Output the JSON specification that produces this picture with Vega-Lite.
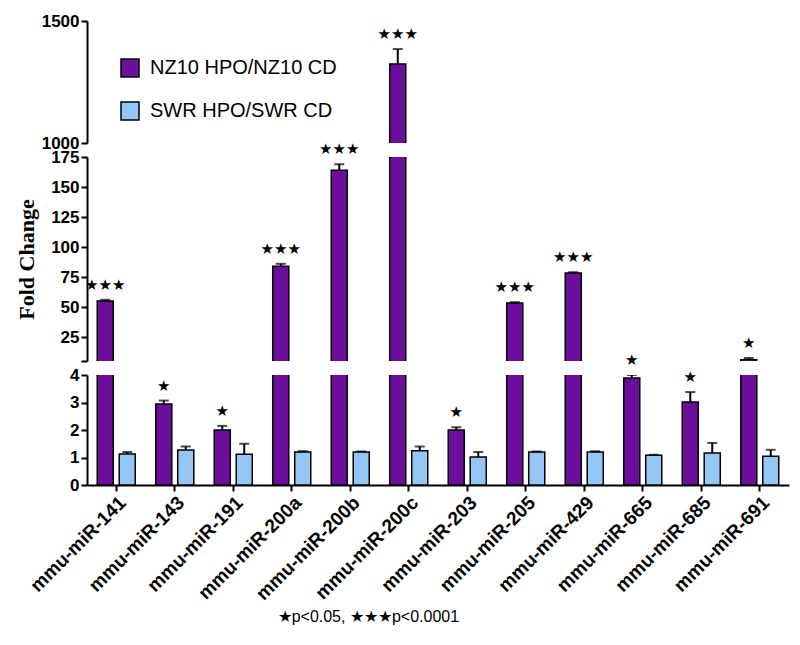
{
  "$schema": "https://vega.github.io/schema/vega-lite/v6.json",
  "padding": {"left": 15, "top": 12, "right": 10, "bottom": 8},
  "background": "white",
  "datasets": {
    "d": [
      {"mir": "mmu-miR-141", "group": "NZ10 HPO/NZ10 CD", "value": 55, "err": 56, "sig": "★★★"},
      {"mir": "mmu-miR-141", "group": "SWR HPO/SWR CD", "value": 1.13, "err": 1.2, "sig": ""},
      {"mir": "mmu-miR-143", "group": "NZ10 HPO/NZ10 CD", "value": 2.95, "err": 3.07, "sig": "★"},
      {"mir": "mmu-miR-143", "group": "SWR HPO/SWR CD", "value": 1.27, "err": 1.4, "sig": ""},
      {"mir": "mmu-miR-191", "group": "NZ10 HPO/NZ10 CD", "value": 2.0, "err": 2.15, "sig": "★"},
      {"mir": "mmu-miR-191", "group": "SWR HPO/SWR CD", "value": 1.12, "err": 1.5, "sig": ""},
      {"mir": "mmu-miR-200a", "group": "NZ10 HPO/NZ10 CD", "value": 84, "err": 86, "sig": "★★★"},
      {"mir": "mmu-miR-200a", "group": "SWR HPO/SWR CD", "value": 1.2, "err": 1.23, "sig": ""},
      {"mir": "mmu-miR-200b", "group": "NZ10 HPO/NZ10 CD", "value": 164, "err": 169, "sig": "★★★"},
      {"mir": "mmu-miR-200b", "group": "SWR HPO/SWR CD", "value": 1.2, "err": 1.22, "sig": ""},
      {"mir": "mmu-miR-200c", "group": "NZ10 HPO/NZ10 CD", "value": 1324, "err": 1385, "sig": "★★★"},
      {"mir": "mmu-miR-200c", "group": "SWR HPO/SWR CD", "value": 1.25, "err": 1.4, "sig": ""},
      {"mir": "mmu-miR-203", "group": "NZ10 HPO/NZ10 CD", "value": 2.0, "err": 2.1, "sig": "★"},
      {"mir": "mmu-miR-203", "group": "SWR HPO/SWR CD", "value": 1.02, "err": 1.2, "sig": ""},
      {"mir": "mmu-miR-205", "group": "NZ10 HPO/NZ10 CD", "value": 53.3, "err": 54, "sig": "★★★"},
      {"mir": "mmu-miR-205", "group": "SWR HPO/SWR CD", "value": 1.2, "err": 1.22, "sig": ""},
      {"mir": "mmu-miR-429", "group": "NZ10 HPO/NZ10 CD", "value": 78.3, "err": 79, "sig": "★★★"},
      {"mir": "mmu-miR-429", "group": "SWR HPO/SWR CD", "value": 1.2, "err": 1.23, "sig": ""},
      {"mir": "mmu-miR-665", "group": "NZ10 HPO/NZ10 CD", "value": 3.89, "err": 4.0, "sig": "★"},
      {"mir": "mmu-miR-665", "group": "SWR HPO/SWR CD", "value": 1.08, "err": 1.1, "sig": ""},
      {"mir": "mmu-miR-685", "group": "NZ10 HPO/NZ10 CD", "value": 3.02, "err": 3.38, "sig": "★"},
      {"mir": "mmu-miR-685", "group": "SWR HPO/SWR CD", "value": 1.16, "err": 1.53, "sig": ""},
      {"mir": "mmu-miR-691", "group": "NZ10 HPO/NZ10 CD", "value": 6, "err": 7.5, "sig": "★"},
      {"mir": "mmu-miR-691", "group": "SWR HPO/SWR CD", "value": 1.05, "err": 1.28, "sig": ""}
    ]
  },
  "config": {
    "view": {"stroke": null},
    "axis": {
      "domainColor": "black", "domainWidth": 2, "tickColor": "black", "tickWidth": 2, "tickSize": 6,
      "labelFont": "Liberation Sans", "labelFontWeight": "bold", "labelFontSize": 17, "labelColor": "black",
      "grid": false, "titleColor": "black"
    },
    "axisY": {"labelOverlap": false, "tickCount": 30}
  },
  "title": {
    "text": "★p<0.05, ★★★p<0.0001", "orient": "bottom", "anchor": "start", "dx": 262,
    "font": "Liberation Sans", "fontSize": 16, "fontWeight": "normal", "color": "black", "offset": 6
  },
  "spacing": 14,
  "bounds": "flush",
  "resolve": {"legend": {"color": "independent"}},
  "vconcat": [
    {
      "width": 702, "height": 122,
      "data": {"name": "d"},
      "encoding": {
        "x": {"field": "mir", "type": "nominal", "sort": null, "scale": {"paddingInner": 0.35, "paddingOuter": 0.175}, "axis": null},
        "xOffset": {"field": "group", "type": "nominal", "sort": ["NZ10 HPO/NZ10 CD", "SWR HPO/SWR CD"], "scale": {"paddingInner": 0.27}}
      },
      "layer": [
        {
          "mark": {"type": "bar", "clip": true, "stroke": "black", "strokeWidth": 1.5},
          "encoding": {
            "y": {"field": "value", "type": "quantitative", "scale": {"domain": [1000, 1500], "zero": false, "nice": false},
                  "axis": {"values": [1000, 1500], "tickCount": 30, "title": null, "format": "d"}},
            "color": {"field": "group", "type": "nominal", "sort": ["NZ10 HPO/NZ10 CD", "SWR HPO/SWR CD"],
              "scale": {"domain": ["NZ10 HPO/NZ10 CD", "SWR HPO/SWR CD"], "range": ["#6c0d9c", "#94c6f6"]},
              "legend": {"orient": "none", "legendX": 33, "legendY": 37, "title": null, "symbolType": "square", "symbolSize": 324,
                "symbolStrokeColor": "black", "symbolStrokeWidth": 1.5, "labelFontSize": 20, "labelFont": "Liberation Sans",
                "labelColor": "black", "labelLimit": 0, "rowPadding": 19, "labelOffset": 10}}
          }
        },
        {
          "mark": {"type": "rule", "clip": true, "color": "black", "strokeWidth": 2},
          "encoding": {"y": {"field": "value", "type": "quantitative"}, "y2": {"field": "err"}}
        },
        {
          "mark": {"type": "tick", "clip": true, "color": "black", "thickness": 2, "size": 10},
          "encoding": {"y": {"field": "err", "type": "quantitative"}}
        },
        {
          "transform": [{"filter": "datum.err >= 1000"}],
          "mark": {"type": "text", "dy": -15, "font": "DejaVu Sans", "fontSize": 15, "color": "black"},
          "encoding": {"y": {"field": "err", "type": "quantitative"}, "text": {"field": "sig"}}
        }
      ]
    },
    {
      "width": 702, "height": 204,
      "data": {"name": "d"},
      "encoding": {
        "x": {"field": "mir", "type": "nominal", "sort": null, "scale": {"paddingInner": 0.35, "paddingOuter": 0.175}, "axis": null},
        "xOffset": {"field": "group", "type": "nominal", "sort": ["NZ10 HPO/NZ10 CD", "SWR HPO/SWR CD"], "scale": {"paddingInner": 0.27}}
      },
      "layer": [
        {
          "mark": {"type": "bar", "clip": true, "stroke": "black", "strokeWidth": 1.5},
          "encoding": {
            "y": {"field": "value", "type": "quantitative", "scale": {"domain": [5, 175], "zero": false, "nice": false},
                  "axis": {"values": [5, 25, 50, 75, 100, 125, 150, 175], "tickCount": 30, "labelExpr": "datum.value == 5 ? '' : datum.label",
                    "title": "Fold Change", "titleFont": "Liberation Serif", "titleFontSize": 22, "titleFontWeight": "bold", "titlePadding": 12}},
            "color": {"field": "group", "type": "nominal",
              "scale": {"domain": ["NZ10 HPO/NZ10 CD", "SWR HPO/SWR CD"], "range": ["#6c0d9c", "#94c6f6"]}, "legend": null}
          }
        },
        {
          "mark": {"type": "rule", "clip": true, "color": "black", "strokeWidth": 2},
          "encoding": {"y": {"field": "value", "type": "quantitative"}, "y2": {"field": "err"}}
        },
        {
          "mark": {"type": "tick", "clip": true, "color": "black", "thickness": 2, "size": 10},
          "encoding": {"y": {"field": "err", "type": "quantitative"}}
        },
        {
          "transform": [{"filter": "datum.err >= 5 && datum.err < 1000"}],
          "mark": {"type": "text", "dy": -15, "font": "DejaVu Sans", "fontSize": 15, "color": "black"},
          "encoding": {"y": {"field": "err", "type": "quantitative"}, "text": {"field": "sig"}}
        }
      ]
    },
    {
      "width": 702, "height": 110,
      "data": {"name": "d"},
      "encoding": {
        "x": {"field": "mir", "type": "nominal", "sort": null, "scale": {"paddingInner": 0.35, "paddingOuter": 0.175},
              "axis": {"title": null, "labelAngle": -45, "labelFontSize": 19, "labelPadding": 2}},
        "xOffset": {"field": "group", "type": "nominal", "sort": ["NZ10 HPO/NZ10 CD", "SWR HPO/SWR CD"], "scale": {"paddingInner": 0.27}}
      },
      "layer": [
        {
          "mark": {"type": "bar", "clip": true, "stroke": "black", "strokeWidth": 1.5},
          "encoding": {
            "y": {"field": "value", "type": "quantitative", "scale": {"domain": [0, 4], "nice": false},
                  "axis": {"values": [0, 1, 2, 3, 4], "tickCount": 30, "format": "d", "title": null}},
            "color": {"field": "group", "type": "nominal",
              "scale": {"domain": ["NZ10 HPO/NZ10 CD", "SWR HPO/SWR CD"], "range": ["#6c0d9c", "#94c6f6"]}, "legend": null}
          }
        },
        {
          "mark": {"type": "rule", "clip": true, "color": "black", "strokeWidth": 2},
          "encoding": {"y": {"field": "value", "type": "quantitative"}, "y2": {"field": "err"}}
        },
        {
          "mark": {"type": "tick", "clip": true, "color": "black", "thickness": 2, "size": 10},
          "encoding": {"y": {"field": "err", "type": "quantitative"}}
        },
        {
          "transform": [{"filter": "datum.err < 5"}],
          "mark": {"type": "text", "dy": -15, "font": "DejaVu Sans", "fontSize": 15, "color": "black"},
          "encoding": {"y": {"field": "err", "type": "quantitative"}, "text": {"field": "sig"}}
        }
      ]
    }
  ]
}
